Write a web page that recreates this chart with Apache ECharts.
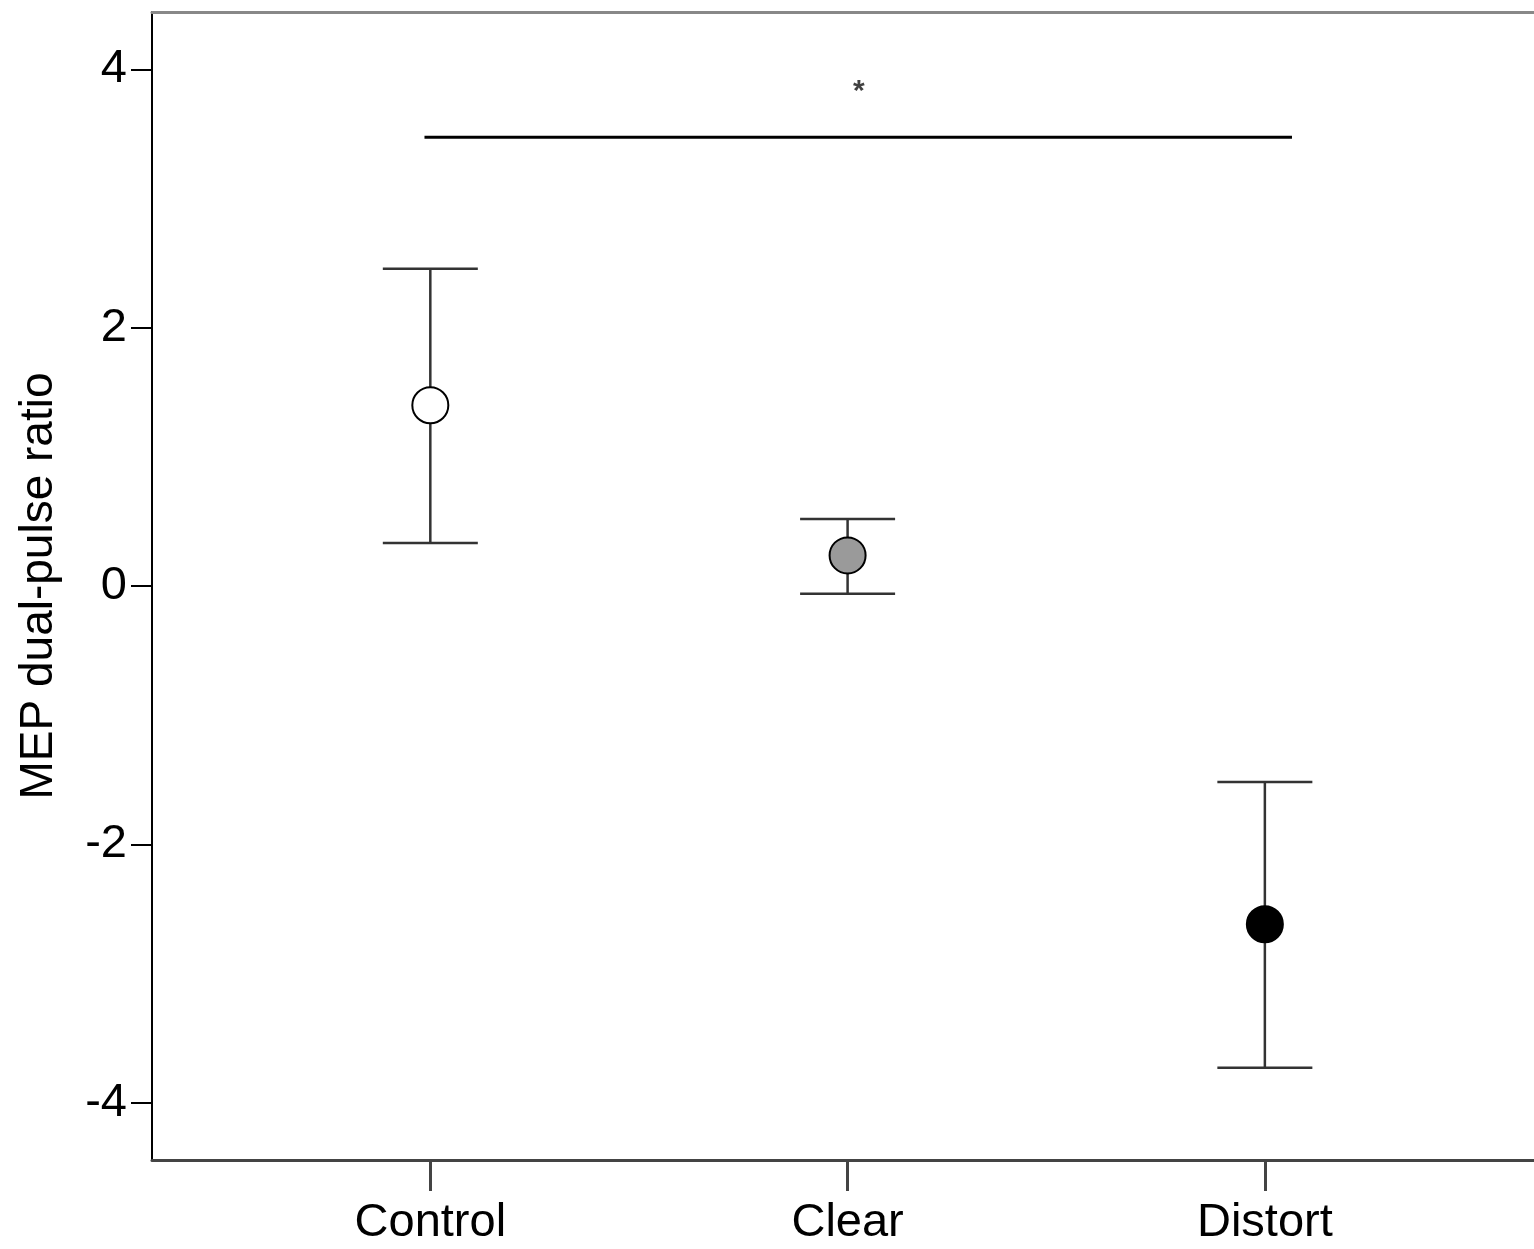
<!DOCTYPE html>
<html>
<head>
<meta charset="utf-8">
<script src="https://cdn.jsdelivr.net/npm/echarts@6/dist/echarts.min.js"></script>
<style>
html,body{margin:0;padding:0;background:#fff;}
#chart{width:1534px;height:1249px;}
</style>
</head>
<body>
<div id="chart"></div>
<script>
const categories = ['Control', 'Clear', 'Distort'];
const means = [1.399, 0.237, -2.619];
const upper = [2.456, 0.519, -1.518];
const lower = [0.333, -0.060, -3.729];
const markerFill = ['#ffffff', '#9a9a9a', '#000000'];
const yTicks = [-4, -2, 0, 2, 4];
const sigBar = { from: 1, to: 3, y: 3.475, starY: 3.871, label: '*' };

const FONT = '"Liberation Sans", Arial, sans-serif';
const chart = echarts.init(document.getElementById('chart'), null, {renderer: 'canvas'});

const xPos = categories.map((c, i) => i + 1);

const option = {
  animation: false,
  backgroundColor: '#ffffff',
  grid: { left: 152, right: 0, top: 12, bottom: 89, containLabel: false },
  xAxis: [{
    type: 'value', min: 0.333, max: 3.645,
    splitLine: { show: false },
    axisLine: { show: true, onZero: false, lineStyle: { color: '#444', width: 3 } },
    axisTick: { show: true, customValues: xPos, length: 31, lineStyle: { color: '#444', width: 3 } },
    axisLabel: { show: true, customValues: xPos, margin: 40, color: '#000', fontSize: 47, fontFamily: FONT,
      formatter: v => categories[Math.round(v) - 1] || '' }
  }, {
    type: 'value', position: 'top', min: 0.333, max: 3.645,
    splitLine: { show: false },
    axisLine: { show: true, onZero: false, lineStyle: { color: '#888', width: 3 } },
    axisTick: { show: false }, axisLabel: { show: false }
  }],
  yAxis: {
    type: 'value', min: -4.444, max: 4.444,
    name: 'MEP dual-pulse ratio', nameLocation: 'middle', nameGap: 90,
    nameTextStyle: { color: '#000', fontSize: 46, fontFamily: FONT },
    splitLine: { show: false },
    axisLine: { show: true, onZero: false, lineStyle: { color: '#000', width: 2 } },
    axisTick: { show: true, customValues: yTicks, length: 21, lineStyle: { color: '#000', width: 2 } },
    axisLabel: { show: true, customValues: yTicks, margin: 25, color: '#000', fontSize: 47, fontFamily: FONT }
  },
  series: [
    {
      type: 'custom',
      xAxisIndex: 0,
      data: categories.map((c, i) => [xPos[i], lower[i], upper[i]]),
      renderItem: function (params, api) {
        const x = api.value(0);
        const lo = api.coord([x, api.value(1)]);
        const hi = api.coord([x, api.value(2)]);
        const half = 47.5;
        const style = { stroke: '#333', lineWidth: 2.5 };
        return {
          type: 'group',
          children: [
            { type: 'line', shape: { x1: hi[0], y1: hi[1], x2: lo[0], y2: lo[1] }, style: style },
            { type: 'line', shape: { x1: hi[0] - half, y1: hi[1], x2: hi[0] + half, y2: hi[1] }, style: style },
            { type: 'line', shape: { x1: lo[0] - half, y1: lo[1], x2: lo[0] + half, y2: lo[1] }, style: style }
          ]
        };
      },
      z: 2
    },
    {
      type: 'scatter',
      xAxisIndex: 0,
      symbol: 'circle',
      symbolSize: 36,
      data: categories.map((c, i) => ({
        value: [xPos[i], means[i]],
        itemStyle: { color: markerFill[i], borderColor: '#000', borderWidth: 2, opacity: 1 }
      })),
      itemStyle: { opacity: 1 },
      z: 3
    },
    {
      type: 'line',
      xAxisIndex: 0,
      symbol: 'none',
      data: [[sigBar.from - 0.014, sigBar.y], [sigBar.to + 0.065, sigBar.y]],
      lineStyle: { color: '#000', width: 3 },
      z: 2
    },
    {
      type: 'scatter',
      xAxisIndex: 0,
      symbolSize: 0,
      data: [[(sigBar.from + sigBar.to) / 2 + 0.027, sigBar.starY]],
      label: { show: true, position: 'inside', formatter: sigBar.label, color: '#111', fontSize: 30, fontWeight: 'bold', fontFamily: FONT, offset: [0, 6] },
      z: 3
    }
  ]
};
chart.setOption(option);
</script>
</body>
</html>
